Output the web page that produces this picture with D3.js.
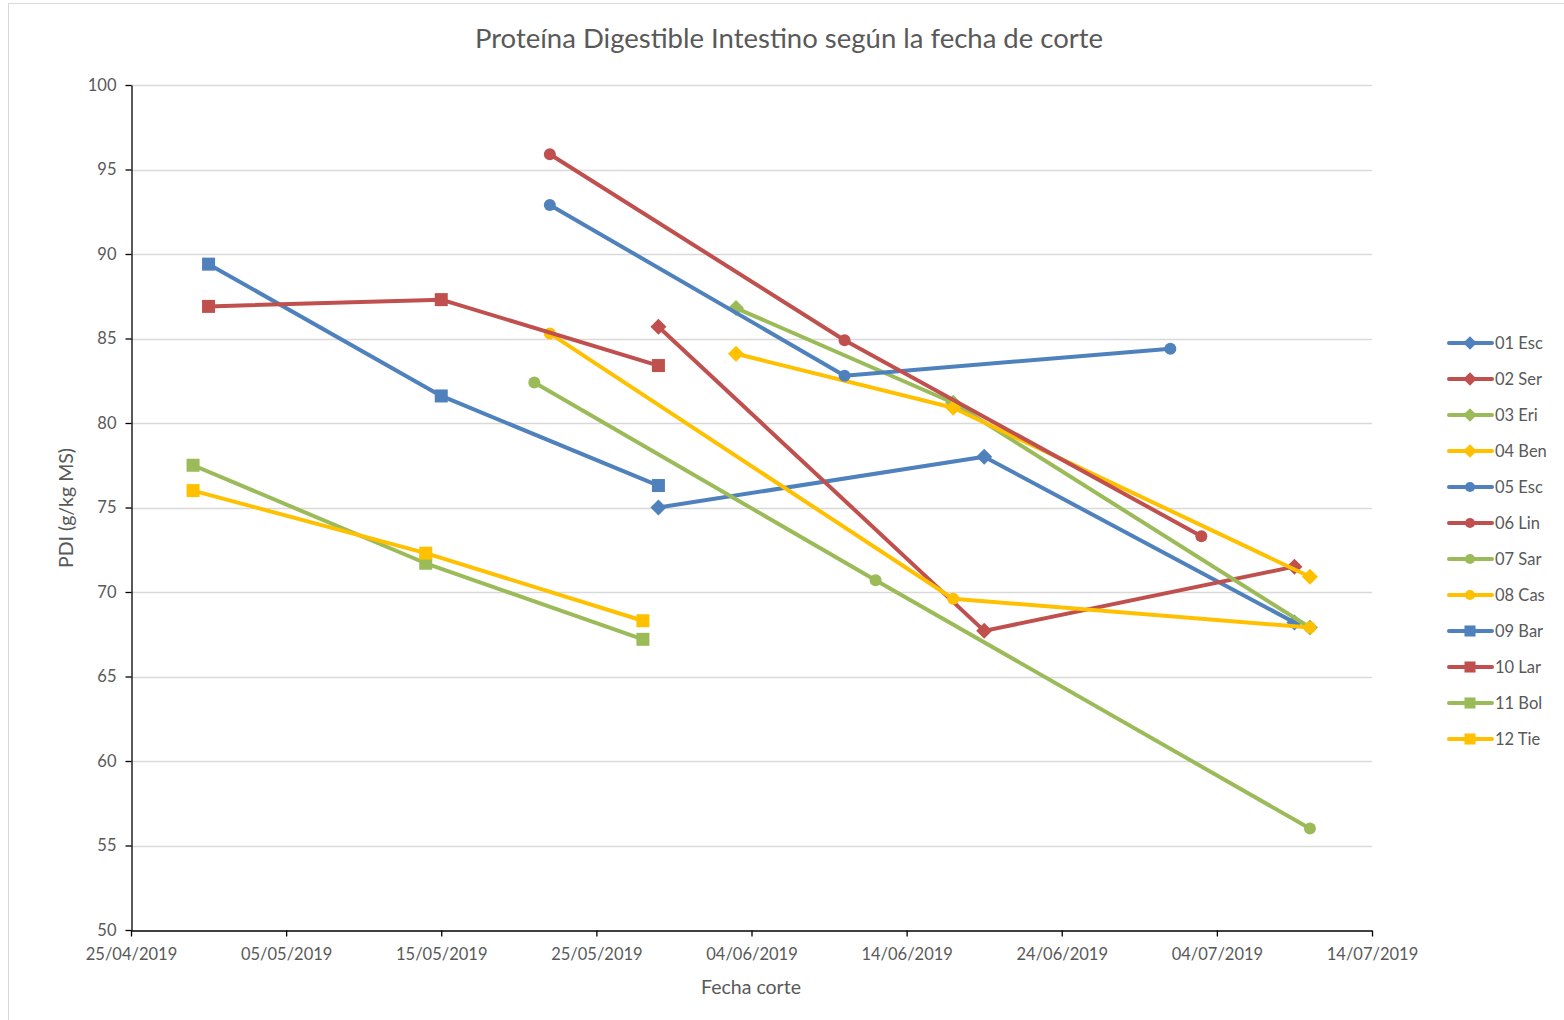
<!DOCTYPE html>
<html>
<head>
<meta charset="utf-8">
<script src="https://cdn.jsdelivr.net/npm/d3@7"></script>
<style>
  html, body { margin: 0; padding: 0; background: #fff; }
  svg { display: block; font-family: Lato, "Open Sans", sans-serif; }
</style>
</head>
<body>
<svg id="chart" width="1564" height="1020"></svg>
<script>
// Series: name, marker shape, colour, and points as [date, PDI]
const seriesNames = ["01 Esc","02 Ser","03 Eri","04 Ben","05 Esc","06 Lin","07 Sar","08 Cas","09 Bar","10 Lar","11 Bol","12 Tie"];
const seriesShapes = ["diamond","diamond","diamond","diamond","circle","circle","circle","circle","square","square","square","square"];
const seriesColors = ["#4f81bd","#c0504d","#9bbb59","#ffc000","#4f81bd","#c0504d","#9bbb59","#ffc000","#4f81bd","#c0504d","#9bbb59","#ffc000"];

const s01 = [["29/05/2019",75.0],["19/06/2019",78.0],["09/07/2019",68.2]];
const s02 = [["29/05/2019",85.7],["19/06/2019",67.7],["09/07/2019",71.5]];
const s03 = [["03/06/2019",86.8],["17/06/2019",81.2],["10/07/2019",67.9]];
const s04 = [["03/06/2019",84.1],["17/06/2019",80.9],["10/07/2019",70.9]];
const s05 = [["22/05/2019",92.9],["10/06/2019",82.8],["01/07/2019",84.4]];
const s06 = [["22/05/2019",95.9],["10/06/2019",84.9],["03/07/2019",73.3]];
const s07 = [["21/05/2019",82.4],["12/06/2019",70.7],["10/07/2019",56.0]];
const s08 = [["22/05/2019",85.3],["17/06/2019",69.6],["10/07/2019",67.9]];
const s09 = [["30/04/2019",89.4],["15/05/2019",81.6],["29/05/2019",76.3]];
const s10 = [["30/04/2019",86.9],["15/05/2019",87.3],["29/05/2019",83.4]];
const s11 = [["29/04/2019",77.5],["14/05/2019",71.7],["28/05/2019",67.2]];
const s12 = [["29/04/2019",76.0],["14/05/2019",72.3],["28/05/2019",68.3]];
const seriesValues = [s01,s02,s03,s04,s05,s06,s07,s08,s09,s10,s11,s12];

const xTickLabels = ["25/04/2019","05/05/2019","15/05/2019","25/05/2019","04/06/2019","14/06/2019","24/06/2019","04/07/2019","14/07/2019"];
const yTickValues = [50,55,60,65,70,75,80,85,90,95,100];

const titleText = "Proteína Digestible Intestino según la fecha de corte";
const xAxisTitle = "Fecha corte";
const yAxisTitle = "PDI (g/kg MS)";

const parse = d3.utcParse("%d/%m/%Y");
const svg = d3.select("#chart");

const plot = { left: 131, right: 1372, top: 85, bottom: 930 };

const x = d3.scaleUtc()
  .domain([parse(xTickLabels[0]), parse(xTickLabels[xTickLabels.length - 1])])
  .range([plot.left, plot.right]);
const y = d3.scaleLinear().domain([50, 100]).range([plot.bottom, plot.top]);

// chart frame
svg.append("rect")
  .attr("x", 8.5).attr("y", 3.5).attr("width", 1600).attr("height", 1040)
  .attr("fill", "none").attr("stroke", "#d9d9d9").attr("stroke-width", 1);

// title
svg.append("text")
  .attr("x", 789).attr("y", 48)
  .attr("text-anchor", "middle")
  .attr("font-size", 27.5).attr("fill", "#595959")
  .text(titleText);

// horizontal gridlines
svg.append("g").selectAll("line")
  .data(yTickValues.filter(v => v > 50))
  .join("line")
  .attr("x1", plot.left).attr("x2", plot.right)
  .attr("y1", d => Math.round(y(d)) + 0.5).attr("y2", d => Math.round(y(d)) + 0.5)
  .attr("stroke", "#d9d9d9").attr("stroke-width", 1.3);

// y axis
const yAxis = svg.append("g")
  .attr("transform", `translate(${plot.left + 0.5},0)`)
  .call(d3.axisLeft(y).tickValues(yTickValues).tickSize(6).tickPadding(9).tickSizeOuter(0));
yAxis.select(".domain").attr("stroke", "#000").attr("stroke-width", 1.3);
yAxis.selectAll(".tick line").attr("stroke", "#000").attr("stroke-width", 1.3);
yAxis.selectAll(".tick text").attr("font-size", 16.5).attr("fill", "#595959")
  .attr("font-family", "Lato, 'Open Sans', sans-serif");

// x axis
const xAxis = svg.append("g")
  .attr("transform", `translate(0,${plot.bottom + 0.5})`)
  .call(d3.axisBottom(x)
    .tickValues(xTickLabels.map(parse))
    .tickFormat(d3.utcFormat("%d/%m/%Y"))
    .tickSize(6).tickPadding(12).tickSizeOuter(0));
xAxis.select(".domain").attr("stroke", "#000").attr("stroke-width", 1.3);
xAxis.selectAll(".tick line").attr("stroke", "#000").attr("stroke-width", 1.3);
xAxis.selectAll(".tick text").attr("font-size", 16.5).attr("fill", "#595959")
  .attr("font-family", "Lato, 'Open Sans', sans-serif");

// axis titles
svg.append("text")
  .attr("x", 751).attr("y", 994)
  .attr("text-anchor", "middle").attr("font-size", 19.5).attr("fill", "#595959")
  .text(xAxisTitle);
svg.append("text")
  .attr("transform", "translate(73,508) rotate(-90)")
  .attr("text-anchor", "middle").attr("font-size", 19.5).attr("fill", "#595959")
  .text(yAxisTitle);

// marker drawing helper
function drawMarker(g, shape, color, cx, cy, k = 1) {
  if (shape === "diamond") {
    const r = 8 * k;
    g.append("path")
      .attr("d", `M${cx},${cy - r}L${cx + r},${cy}L${cx},${cy + r}L${cx - r},${cy}Z`)
      .attr("fill", color);
  } else if (shape === "circle") {
    g.append("circle").attr("cx", cx).attr("cy", cy).attr("r", 6 * k).attr("fill", color);
  } else {
    const h = 6.5 * k;
    g.append("rect").attr("x", cx - h).attr("y", cy - h)
      .attr("width", 2 * h).attr("height", 2 * h).attr("fill", color);
  }
}

const line = d3.line().x(d => x(parse(d[0]))).y(d => y(d[1]));

// series
seriesValues.forEach((vals, i) => {
  const g = svg.append("g");
  g.append("path")
    .attr("d", line(vals))
    .attr("fill", "none")
    .attr("stroke", seriesColors[i])
    .attr("stroke-width", 4)
    .attr("stroke-linejoin", "round")
    .attr("stroke-linecap", "round");
  vals.forEach(d => drawMarker(g, seriesShapes[i], seriesColors[i], x(parse(d[0])), y(d[1])));
});

// legend
const legend = svg.append("g");
seriesNames.forEach((name, i) => {
  const ly = 343 + i * 36;
  const g = legend.append("g");
  g.append("line")
    .attr("x1", 1449).attr("x2", 1492).attr("y1", ly).attr("y2", ly)
    .attr("stroke", seriesColors[i]).attr("stroke-width", 4).attr("stroke-linecap", "round");
  drawMarker(g, seriesShapes[i], seriesColors[i], 1470, ly, 0.85);
  g.append("text")
    .attr("x", 1495).attr("y", ly + 6)
    .attr("font-size", 16.5).attr("fill", "#595959")
    .text(name);
});
</script>
</body>
</html>
